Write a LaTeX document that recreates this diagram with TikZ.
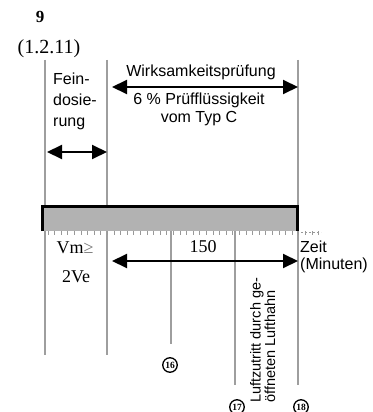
\documentclass[tikz,border=0pt]{standalone}
\usepackage{fontspec}
\setmainfont{Liberation Serif}
\setsansfont{Liberation Sans}
\usetikzlibrary{arrows.meta}

\tikzset{
  guide/.style={draw=black!38, line width=1.4pt},
  span/.style={line width=2pt,
    {Triangle[length=15pt,width=14pt]}-{Triangle[length=15pt,width=14pt]}},
  label/.style={font=\sffamily\fontsize{16}{18}\selectfont, inner sep=0pt},
  serif/.style={font=\fontsize{18}{20}\selectfont, inner sep=0pt},
  marker/.style={circle, draw, line width=1.3pt, minimum size=14.5pt,
    inner sep=0pt, font=\fontsize{9.5}{9.5}\selectfont\bfseries},
  tick/.style={draw=black!40, line width=1pt}
}

\begin{document}
\begin{tikzpicture}[x=1pt,y=-1pt]
\useasboundingbox (0,0) rectangle (372,412);

% heading above the first guide line
\node[font=\fontsize{17}{17}\selectfont\bfseries, inner sep=0pt] (num) at (40,17) {9};
\node[font=\fontsize{20}{20}\selectfont, inner sep=0pt] (sec) at (49,49) {(1.2.11)};

% guide line end points
\coordinate (g1t) at (45,60);   \coordinate (g1b) at (45,355);
\coordinate (g2t) at (107,60);  \coordinate (g2b) at (107,355);
\coordinate (g3t) at (171,231); \coordinate (g3b) at (171,344);
\coordinate (g4t) at (235,231); \coordinate (g4b) at (235,385);
\coordinate (g5t) at (298,60);  \coordinate (g5b) at (298,385);

\draw[guide] (g1t) -- (g1b);
\draw[guide] (g2t) -- (g2b);
\draw[guide] (g3t) -- (g3b);
\draw[guide] (g4t) -- (g4b);
\draw[guide] (g5t) -- (g5b);

% time bar
\coordinate (barTL) at (42,206);
\coordinate (barTR) at (297,206);
\coordinate (barBL) at (42,231);
\coordinate (barBR) at (297,231);
\fill[black!30] (barTL) rectangle (barBR);
\draw[line width=3pt] (barBL) -- (barTL) -- (barTR) -- (barBR);

% minute ticks below the bar
\foreach \t in {0,...,41}
  \draw[tick] (48+\t*6.6,231) -- ++(0,4);
\coordinate (axisEnd) at (321,232);
\draw[tick, dash pattern=on 2pt off 2pt] (barBR) ++(0,1) -- (axisEnd);

% fine dosing phase
\node[label, align=left, anchor=north west, font=\sffamily\fontsize{16}{21}\selectfont]
  (fein) at (53,73) {Fein-\\dosie-\\rung};
\coordinate (fa) at (47,152);
\coordinate (fb) at (107,152);
\draw[span] (fa) -- (fb);

% efficacy test phase
\coordinate (wa) at (112,87);
\coordinate (wb) at (298,87);
\draw[span] (wa) -- (wb);
\node[label] (wirk) at (201,72) {Wirksamkeitsprüfung};
\node[label, align=center, anchor=north] (fluid) at (199,93)
  {6 \% Prüfflüssigkeit\\vom Typ C};

% duration arrow and labels under the bar
\coordinate (da) at (112,261);
\coordinate (db) at (298,261);
\draw[span] (da) -- (db);
\node[serif] (vm) at (75,248) {Vm\textcolor{black!55}{≥}};
\node[serif] (ve) at (76,277) {2Ve};
\node[serif] (dur) at (203,247) {150};
\node[label, align=left, anchor=north west, font=\sffamily\fontsize{16}{17}\selectfont]
  (zeit) at (300,241) {Zeit\\(Minuten)};

% air inlet note
\node[rotate=90, anchor=north west, align=left, inner sep=0pt,
  font=\sffamily\fontsize{14.5}{13}\selectfont] (luft) at (250,403)
  {Luftzutritt durch ge-\\öffneten Lufthahn};

% reference markers
\node[marker] (m16) at (170,365) {16};
\node[marker] (m17) at (237,407) {17};
\node[marker] (m18) at (301,407) {18};
\end{tikzpicture}
\end{document}
